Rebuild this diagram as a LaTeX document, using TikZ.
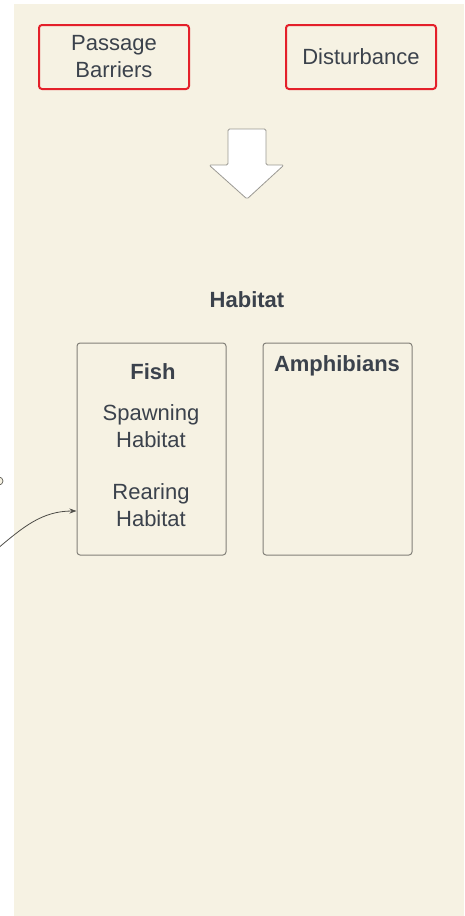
\documentclass[tikz,border=0pt]{standalone}
\usepackage{fontspec}
\setmainfont{Liberation Sans}
\usetikzlibrary{arrows.meta,positioning}
\definecolor{paper}{HTML}{F6F2E3}
\definecolor{alarm}{HTML}{E4202A}
\definecolor{ink}{HTML}{3B424C}
\definecolor{edge}{HTML}{828078}
\tikzset{
  every picture/.style={line join=round, line cap=round, >=Stealth},
  label text/.style={text=ink, font=\fontsize{22}{27}\selectfont, align=center, inner sep=0pt},
  head text/.style={label text, font=\bfseries\fontsize{22}{27}\selectfont},
  stressor/.style={draw=alarm, line width=2pt, rounded corners=3pt, minimum width=150, minimum height=64, label text},
  group/.style={draw=edge, line width=1pt, rounded corners=3pt, minimum width=149, minimum height=212, inner sep=0pt},
}

\begin{document}
\begin{tikzpicture}[x=1pt,y=-1pt]
\useasboundingbox(0,0)rectangle(464,916);
\fill[paper](14,4)rectangle(464,916);
% stressors
\node[stressor](passage)at(114,57){Passage\\Barriers};
\node[stressor](disturb)at(361,57){Disturbance};
\draw[fill=white,draw=edge!80,line width=0.8pt,rounded corners=1.5pt]
(228,129)--(266,129)--(266,165)--(284,165)--(247,199)--(209,165)--(228,165)--cycle;
% habitat
\node[head text](habitat)at(247,300){Habitat};
\node[group](fish)at(151.5,449){};
\node[group](amph)at(337.5,449){};
\node[head text](fishhd)at(153,372){Fish};
\node[head text](amphhd)at(337,366){Amphibians};
\node[label text](spawn)at(151,426){Spawning\\Habitat};
\node[label text](rear)at(151,505){Rearing\\Habitat};
% link from outside
\node[draw=edge!70!black,fill=paper,circle,minimum size=8pt,inner sep=0pt,line width=0.7pt](src)at(-1,481){};
\coordinate(tail)at(-3,549);
\draw[-{Stealth[length=7pt,width=5pt]},draw=edge!60!black,line width=0.8pt](tail)to[out=40,in=180]([yshift=-6pt]fish.west|-rear);
\end{tikzpicture}
\end{document}
